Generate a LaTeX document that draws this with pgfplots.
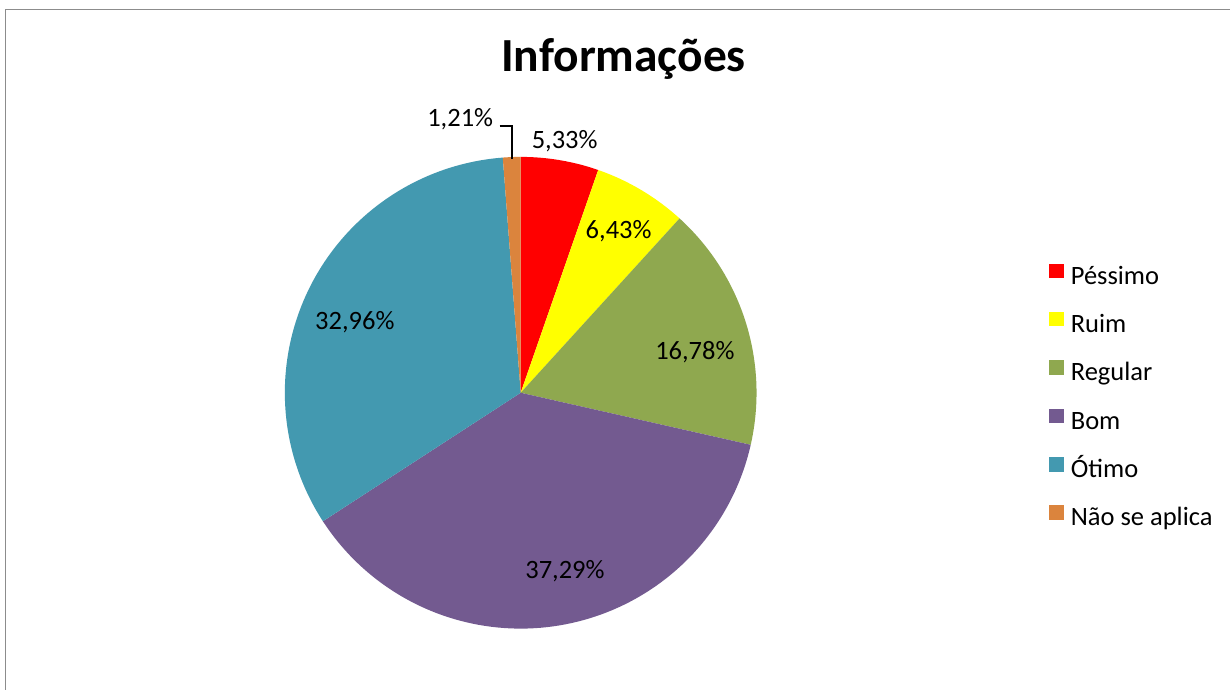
\documentclass[border=0pt]{standalone}
\usepackage{pgfplots}
\pgfplotsset{compat=1.18}
\usepackage{fontspec}
\setmainfont{Carlito}

\definecolor{cPes}{HTML}{FF0000}
\definecolor{cRui}{HTML}{FFFF00}
\definecolor{cReg}{HTML}{8FA84F}
\definecolor{cBom}{HTML}{735A90}
\definecolor{cOti}{HTML}{4399B0}
\definecolor{cNao}{HTML}{DB843D}
\definecolor{frame}{HTML}{8C8C8C}

% one slice: percentage, colour, legend text (clockwise from 12 o'clock)
\gdef\cum{0}
\newcommand\pieslice[3]{%
  \pgfmathsetmacro\sa{90-3.6*\cum}%
  \pgfmathsetmacro\cumnew{\cum+#1}%
  \xdef\cum{\cumnew}%
  \pgfmathsetmacro\sb{90-3.6*\cum}%
  \addplot[fill=#2, draw=none, domain=\sb:\sa, samples=90, variable=\t]
    ({521+236*cos(\t)},{297+236*sin(\t)}) -- (521,297) -- cycle;
  \addlegendentry{#3}
}

\begin{document}
\begin{tikzpicture}
\begin{axis}[
    x=1pt, y=1pt,
    xmin=0, xmax=1231, ymin=0, ymax=690,
    scale only axis,
    hide axis,
    clip=false,
    legend cell align=left,
    legend image code/.code={\fill[#1] (0pt,0pt) rectangle (14.5pt,14.5pt);},
    legend style={
        draw=none, fill=none, inner sep=0pt, outer sep=0pt,
        at={(axis cs:1050,426.3)}, anchor=north west,
        font=\fontsize{26.5}{31}\selectfont,
        row sep=21.9pt,
        nodes={inner sep=0pt, text height=18pt, text depth=6pt},
        /tikz/every odd column/.append style={column sep=7pt},
    },
]
\fill[white] (0,0) rectangle (1231,690);
\draw[frame, line width=1.5pt] (5.5,0) -- (5.5,680.5) -- (1231,680.5);

\pieslice{5.33}{cPes}{Péssimo}
\pieslice{6.43}{cRui}{Ruim}
\pieslice{16.78}{cReg}{Regular}
\pieslice{37.29}{cBom}{Bom}
\pieslice{32.96}{cOti}{Ótimo}
\pieslice{1.21}{cNao}{Não se aplica}

\node[anchor=base, font=\fontsize{47.5}{56}\bfseries] at (axis cs:624,618) {Informações};

\begin{scope}[every node/.style={anchor=base, inner sep=0pt, font=\fontsize{26.5}{31}\selectfont}]
\node at (axis cs:565,541) {5,33\%};
\node at (axis cs:619,451) {6,43\%};
\node at (axis cs:695.3,330.7) {16,78\%};
\node at (axis cs:565.3,110.7) {37,29\%};
\node at (axis cs:355,360.7) {32,96\%};
\node at (axis cs:460.5,563) {1,21\%};
\end{scope}
\draw[black, line width=1.5pt] (axis cs:500,564) -- (axis cs:512.5,564) -- (axis cs:512.5,531);
\end{axis}
\end{tikzpicture}
\end{document}
